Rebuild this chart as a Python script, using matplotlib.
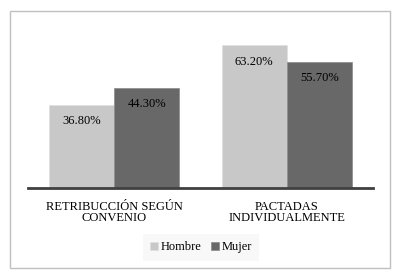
import numpy as np
import matplotlib.pyplot as plt
from matplotlib.patches import Rectangle

categories = ["RETRIBUCCIÓN SEGÚN\nCONVENIO", "PACTADAS\nINDIVIDUALMENTE"]
hombre = [36.8, 63.2]
mujer = [44.3, 55.7]

plt.rcParams['font.family'] = ['Liberation Serif', 'DejaVu Serif']

fig = plt.figure(figsize=(4.02, 2.80), dpi=100)
ax = fig.add_axes([28 / 402, 92 / 280, 345 / 402, 158 / 280])

x = np.arange(len(categories))
w = 0.378
b1 = ax.bar(x - w / 2, hombre, w, color='#c8c8c8', edgecolor='#e0e0e0', linewidth=0.5, label='Hombre')
b2 = ax.bar(x + w / 2, mujer, w, color='#686868', edgecolor='#8a8a8a', linewidth=0.5, label='Mujer')

# value labels inside the top of each bar
for bars, vals in ((b1, hombre), (b2, mujer)):
    for r, v in zip(bars, vals):
        ax.text(r.get_x() + r.get_width() / 2, v - 4.5, f"{v:.2f}%",
                ha='center', va='top', fontsize=9, color='#000000')

ax.set_xlim(-0.5, 1.5)
ax.set_ylim(0, 70)
ax.set_yticks([])
ax.set_xticks(x)
ax.set_xticklabels(categories, fontsize=9, linespacing=0.95, color='#000000')
ax.tick_params(axis='x', length=0, pad=9)
for s in ('top', 'right', 'left'):
    ax.spines[s].set_visible(False)
ax.spines['bottom'].set_color('#404040')
ax.spines['bottom'].set_linewidth(2)

leg = fig.legend(loc='center', bbox_to_anchor=(201 / 402, 1 - 247 / 280), ncol=2,
                 fontsize=9, frameon=True, handlelength=0.6, handleheight=0.6,
                 handletextpad=0.2, columnspacing=0.8, borderpad=0.6)
leg.get_frame().set_facecolor('#f7f7f7')
leg.get_frame().set_edgecolor('none')
leg.get_frame().set_boxstyle('square', pad=0)

# outer chart border
fig.patches.append(Rectangle((10 / 402, 12 / 280), 380 / 402, 257 / 280,
                             transform=fig.transFigure, fill=False,
                             edgecolor='#c0c0c0', linewidth=1))

fig.savefig('out.png', dpi=100)
